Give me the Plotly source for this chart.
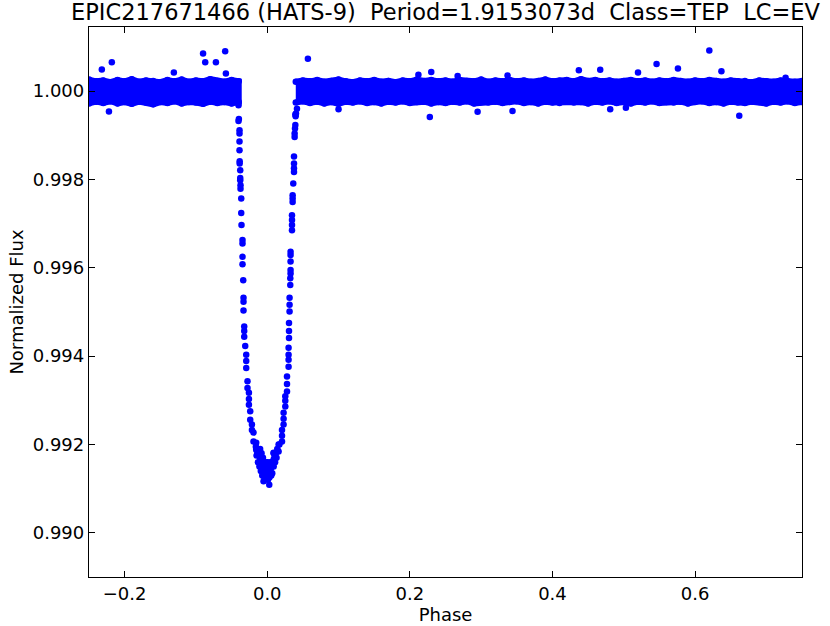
import plotly.graph_objects as go

# out-of-transit band: envelope of the dense points
band_left_phase = [-0.25, -0.24, -0.23, -0.22, -0.21, -0.20, -0.19, -0.18, -0.17, -0.16, -0.15,
                   -0.14, -0.13, -0.12, -0.11, -0.10, -0.09, -0.08, -0.07, -0.06, -0.05, -0.04]
band_left_upper = [1.00026, 1.00022, 1.00024, 1.00020, 1.00025, 1.00022, 1.00027, 1.00021, 1.00024, 1.00023, 1.00020,
                   1.00025, 1.00022, 1.00026, 1.00021, 1.00024, 1.00022, 1.00027, 1.00023, 1.00021, 1.00025, 1.00022]
band_left_lower = [0.99972, 0.99976, 0.99973, 0.99977, 0.99972, 0.99975, 0.99971, 0.99976, 0.99974, 0.99970, 0.99975,
                   0.99973, 0.99977, 0.99972, 0.99975, 0.99974, 0.99971, 0.99976, 0.99973, 0.99975, 0.99972, 0.99975]

band_right_phase = [0.04, 0.05, 0.06, 0.07, 0.08, 0.09, 0.10, 0.11, 0.12, 0.13,
                    0.14, 0.15, 0.16, 0.17, 0.18, 0.19, 0.20, 0.21, 0.22, 0.23,
                    0.24, 0.25, 0.26, 0.27, 0.28, 0.29, 0.30, 0.31, 0.32, 0.33,
                    0.34, 0.35, 0.36, 0.37, 0.38, 0.39, 0.40, 0.41, 0.42, 0.43,
                    0.44, 0.45, 0.46, 0.47, 0.48, 0.49, 0.50, 0.51, 0.52, 0.53,
                    0.54, 0.55, 0.56, 0.57, 0.58, 0.59, 0.60, 0.61, 0.62, 0.63,
                    0.64, 0.65, 0.66, 0.67, 0.68, 0.69, 0.70, 0.71, 0.72, 0.73, 0.74, 0.75]
band_right_upper = [1.00021, 1.00024, 1.00022, 1.00025, 1.00021, 1.00023, 1.00026, 1.00022, 1.00020, 1.00024,
                    1.00022, 1.00025, 1.00021, 1.00023, 1.00020, 1.00024, 1.00022, 1.00026, 1.00023, 1.00025,
                    1.00022, 1.00024, 1.00021, 1.00025, 1.00023, 1.00022, 1.00026, 1.00021, 1.00024, 1.00022,
                    1.00025, 1.00022, 1.00024, 1.00021, 1.00023, 1.00026, 1.00022, 1.00024, 1.00025, 1.00022,
                    1.00027, 1.00023, 1.00025, 1.00022, 1.00024, 1.00021, 1.00023, 1.00025, 1.00022, 1.00024,
                    1.00021, 1.00024, 1.00022, 1.00025, 1.00023, 1.00021, 1.00024, 1.00022, 1.00025, 1.00023,
                    1.00021, 1.00024, 1.00022, 1.00023, 1.00020, 1.00024, 1.00022, 1.00021, 1.00024, 1.00022, 1.00021, 1.00023]
band_right_lower = [0.99974, 0.99977, 0.99973, 0.99976, 0.99972, 0.99975, 0.99971, 0.99976, 0.99974, 0.99977,
                    0.99973, 0.99975, 0.99972, 0.99976, 0.99974, 0.99977, 0.99973, 0.99975, 0.99976, 0.99972,
                    0.99975, 0.99973, 0.99976, 0.99974, 0.99977, 0.99972, 0.99975, 0.99974, 0.99976, 0.99973,
                    0.99975, 0.99977, 0.99973, 0.99975, 0.99972, 0.99976, 0.99974, 0.99973, 0.99976, 0.99974,
                    0.99975, 0.99972, 0.99976, 0.99974, 0.99977, 0.99973, 0.99975, 0.99972, 0.99976, 0.99974,
                    0.99977, 0.99973, 0.99975, 0.99974, 0.99976, 0.99972, 0.99975, 0.99977, 0.99973, 0.99975,
                    0.99972, 0.99976, 0.99974, 0.99973, 0.99976, 0.99975, 0.99972, 0.99976, 0.99974, 0.99977, 0.99973, 0.99975]

# scattered points outside the band
outlier_phase = [-0.232, -0.218, -0.222, -0.131, -0.090, -0.087, -0.072, -0.059, -0.058,
                 0.057, 0.100, 0.212, 0.228, 0.230, 0.267, 0.295, 0.337, 0.344,
                 0.437, 0.467, 0.481, 0.503, 0.520, 0.546, 0.576, 0.620, 0.637, 0.662, 0.727]
outlier_flux = [1.00049, 1.00065, 0.99954, 1.00042, 1.00085, 1.00065, 1.00065, 1.00090, 1.00040,
                1.00073, 0.99959, 1.00037, 0.99941, 1.00043, 1.00034, 0.99953, 1.00035, 0.99955,
                1.00047, 1.00048, 0.99959, 0.99962, 1.00042, 1.00061, 1.00051, 1.00092, 1.00045, 0.99944, 1.00030]

# transit: ingress, bottom, egress
ingress_phase = [-0.0403, -0.0398, -0.0403, -0.0389, -0.0389, -0.0389, -0.0389, -0.0387, -0.0387, -0.0379,
                 -0.0379, -0.0379, -0.0375, -0.0375, -0.0365, -0.0365, -0.0361, -0.0347, -0.0347, -0.0347,
                 -0.0347, -0.0337, -0.0333, -0.0333, -0.0333, -0.0323, -0.0323, -0.0323, -0.0309, -0.0295,
                 -0.0295, -0.0295, -0.0277, -0.0277, -0.0257, -0.0257, -0.0257, -0.0239, -0.0239, -0.0215,
                 -0.0215, -0.0193, -0.0193, -0.0155, -0.0155]
ingress_flux = [0.99968, 0.99937, 0.99932, 0.99911, 0.99904, 0.99886, 0.99866, 0.99841, 0.99836, 0.99821,
                0.99803, 0.99798, 0.99787, 0.99779, 0.99757, 0.99724, 0.99697, 0.99663, 0.99655, 0.99625,
                0.99608, 0.99572, 0.99532, 0.99523, 0.99503, 0.99467, 0.99457, 0.99444, 0.99423, 0.99403,
                0.99389, 0.99373, 0.99343, 0.99328, 0.99317, 0.99303, 0.99290, 0.99275, 0.99256, 0.99245,
                0.99233, 0.99227, 0.99207, 0.99204, 0.99188]

bottom_phase = [-0.016, -0.015, -0.014, -0.013, -0.013, -0.012, -0.011, -0.010, -0.010, -0.009,
                -0.008, -0.008, -0.007, -0.006, -0.006, -0.005, -0.0052, -0.004, -0.003, -0.002,
                -0.002, -0.001, 0.000, 0.000, 0.001, 0.002, 0.0028, 0.003, 0.004, 0.004,
                0.005, 0.0056, 0.006, 0.007, 0.008, 0.009, 0.009, 0.010, 0.011, 0.012,
                0.013, 0.014, 0.015, 0.017]
bottom_flux = [0.99195, 0.99175, 0.99180, 0.99160, 0.99190, 0.99175, 0.99150, 0.99170, 0.99190, 0.99140,
               0.99160, 0.99180, 0.99130, 0.99150, 0.99170, 0.99140, 0.99117, 0.99120, 0.99145, 0.99130,
               0.99160, 0.99150, 0.99135, 0.99160, 0.99120, 0.99140, 0.99109, 0.99125, 0.99130, 0.99160,
               0.99145, 0.99130, 0.99150, 0.99135, 0.99160, 0.99150, 0.99180, 0.99170, 0.99160, 0.99180,
               0.99170, 0.99190, 0.99185, 0.99200]

egress_phase = [0.0394, 0.0417, 0.0403, 0.0398, 0.0394, 0.0389, 0.0384, 0.0384, 0.0375, 0.0375,
                0.0375, 0.0375, 0.0365, 0.0356, 0.0356, 0.0356, 0.0347, 0.0347, 0.0347, 0.0347,
                0.0327, 0.0327, 0.0327, 0.0327, 0.0327, 0.0323, 0.0323, 0.0313, 0.0313, 0.0313,
                0.0305, 0.0305, 0.0305, 0.0299, 0.0299, 0.0299, 0.0299, 0.0277, 0.0277, 0.0277,
                0.0253, 0.0253, 0.0253, 0.0229, 0.0229, 0.0229, 0.0207, 0.0207, 0.0207, 0.0159,
                0.0159, 0.0089, 0.0089]
egress_flux = [0.99947, 0.99960, 0.99949, 0.99943, 0.99923, 0.99915, 0.99904, 0.99896, 0.99852, 0.99836,
               0.99825, 0.99817, 0.99791, 0.99764, 0.99757, 0.99749, 0.99719, 0.99708, 0.99697, 0.99685,
               0.99636, 0.99629, 0.99614, 0.99595, 0.99587, 0.99576, 0.99561, 0.99532, 0.99516, 0.99501,
               0.99475, 0.99457, 0.99441, 0.99419, 0.99403, 0.99392, 0.99376, 0.99354, 0.99337, 0.99320,
               0.99309, 0.99299, 0.99286, 0.99272, 0.99258, 0.99245, 0.99233, 0.99220, 0.99207, 0.99200,
               0.99184, 0.99181, 0.99166]

x_ticks = [-0.2, 0.0, 0.2, 0.4, 0.6]
y_ticks = [0.990, 0.992, 0.994, 0.996, 0.998, 1.000]

title = "EPIC217671466 (HATS-9)\u00a0\u00a0Period=1.9153073d\u00a0\u00a0Class=TEP\u00a0\u00a0LC=EV"

BLUE = "#0000ff"
FONT = "DejaVu Sans"

fig = go.Figure()

for ph, up, lo in [(band_left_phase, band_left_upper, band_left_lower),
                   (band_right_phase, band_right_upper, band_right_lower)]:
    fig.add_trace(go.Scatter(
        x=ph + ph[::-1], y=up + lo[::-1],
        mode="lines+markers", fill="toself", fillcolor=BLUE,
        line=dict(color=BLUE, width=6),
        marker=dict(color=BLUE, size=6.5),
        hoverinfo="skip", showlegend=False,
    ))

for xs, ys in [(outlier_phase, outlier_flux), (ingress_phase, ingress_flux),
               (bottom_phase, bottom_flux), (egress_phase, egress_flux)]:
    fig.add_trace(go.Scatter(x=xs, y=ys, mode="markers",
                             marker=dict(color=BLUE, size=6.5, line=dict(width=0)),
                             showlegend=False))

axis_common = dict(showline=True, linecolor="black", linewidth=1.3, mirror="ticks",
                   ticks="inside", ticklen=6, tickcolor="black", showgrid=False,
                   zeroline=False, automargin=False,
                   tickfont=dict(family=FONT, size=18, color="black"))

fig.update_layout(
    width=830, height=626,
    margin=dict(l=89, r=28, t=27, b=49),
    plot_bgcolor="white", paper_bgcolor="white",
    font=dict(family=FONT, color="black"),
    title=dict(text=title, x=0.5, xref="paper", y=0.980, yref="container", yanchor="middle",
               font=dict(family=FONT, size=22.5, color="black")),
    xaxis=dict(range=[-0.25, 0.75], tickvals=x_ticks, tickformat=".1f",
               title=dict(text="Phase", font=dict(family=FONT, size=18), standoff=2),
               **axis_common),
    yaxis=dict(range=[0.98900, 1.00145], tickvals=y_ticks, tickformat=".3f",
               title=dict(text="Normalized Flux", font=dict(family=FONT, size=18), standoff=4),
               **axis_common),
)

# the page's default body margin would shift the figure by 8px
fig.write_html("out.html", config={"displayModeBar": False},
               post_script="document.body.style.margin = '0';")
